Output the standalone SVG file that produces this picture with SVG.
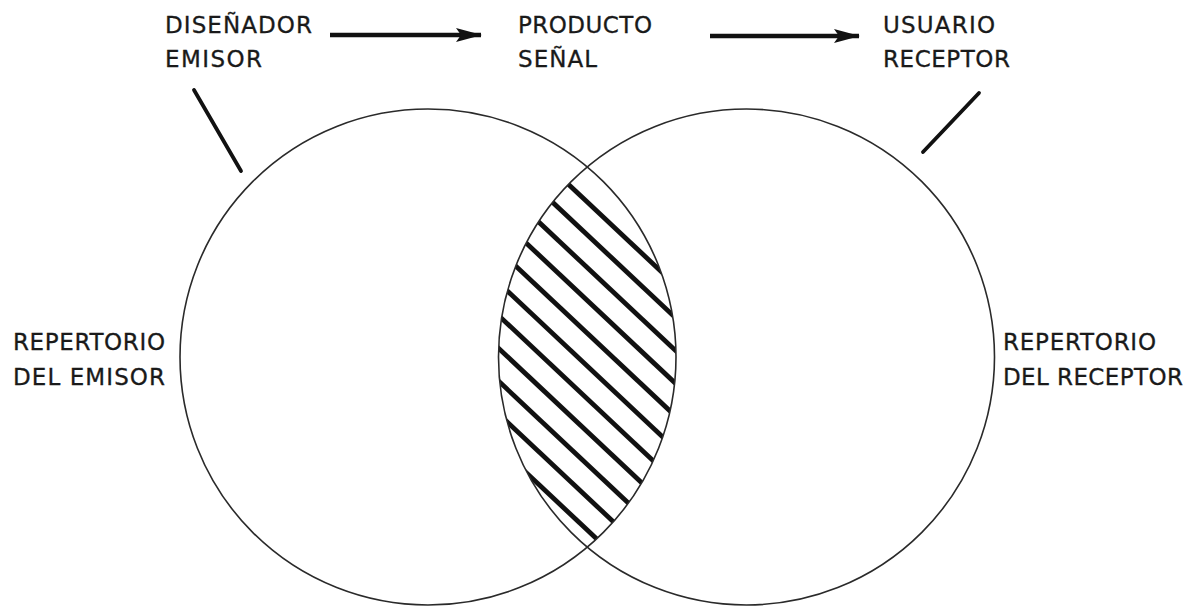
<svg xmlns="http://www.w3.org/2000/svg" width="1194" height="607" viewBox="0 0 1194 607">
  <style>
    .lbl { font-family: "DejaVu Sans", Verdana, sans-serif; font-size: 23px; fill: #1a1a1a; stroke: #1a1a1a; stroke-width: 0.3; }
    .circ { fill: none; stroke: #2a2a2a; stroke-width: 1.6; }
    .hatch { stroke: #111; stroke-width: 4.8; stroke-linecap: butt; }
    .arrow { stroke: #111; stroke-width: 4.5; fill: none; }
    .leader { stroke: #111; stroke-width: 3.8; stroke-linecap: round; }
  </style>
  <defs>
    <marker id="ah" viewBox="0 0 26 14" refX="25" refY="7" markerWidth="26" markerHeight="14" markerUnits="userSpaceOnUse" orient="auto">
      <path d="M0,0 L26,7 L0,14 L5,7 Z" fill="#111"/>
    </marker>
    <clipPath id="lens">
      <path d="M587.25,166.9 A248,248 0 0 1 587.25,547.1 A248,248 0 0 1 587.25,166.9 Z"/>
    </clipPath>
  </defs>
  <rect width="1194" height="607" fill="#ffffff"/>

  <g id="intersection" clip-path="url(#lens)">
    <line class="hatch" x1="480" y1="101.2" x2="700" y2="308"/>
    <line class="hatch" x1="480" y1="134" x2="700" y2="340.8"/>
    <line class="hatch" x1="480" y1="166.8" x2="700" y2="373.6"/>
    <line class="hatch" x1="480" y1="199.6" x2="700" y2="406.4"/>
    <line class="hatch" x1="480" y1="232.4" x2="700" y2="439.2"/>
    <line class="hatch" x1="480" y1="265.2" x2="700" y2="472"/>
    <line class="hatch" x1="480" y1="298" x2="700" y2="504.8"/>
    <line class="hatch" x1="480" y1="330.8" x2="700" y2="537.6"/>
    <line class="hatch" x1="480" y1="363.6" x2="700" y2="570.4"/>
    <line class="hatch" x1="480" y1="396.4" x2="700" y2="603.2"/>
    <line class="hatch" x1="480" y1="429.2" x2="700" y2="636"/>
  </g>

  <g id="repertorio-emisor">
    <circle class="circ" cx="428" cy="357" r="248"/>
    <text class="lbl" x="13" y="350" textLength="152" lengthAdjust="spacing">REPERTORIO</text>
    <text class="lbl" x="13" y="385" textLength="152" lengthAdjust="spacing">DEL EMISOR</text>
  </g>

  <g id="repertorio-receptor">
    <circle class="circ" cx="746.5" cy="357" r="248"/>
    <text class="lbl" x="1003" y="350" textLength="153" lengthAdjust="spacing">REPERTORIO</text>
    <text class="lbl" x="1003" y="385" textLength="180" lengthAdjust="spacing">DEL RECEPTOR</text>
  </g>

  <g id="disenador-emisor">
    <text class="lbl" x="165" y="33" textLength="147" lengthAdjust="spacing">DISEÑADOR</text>
    <text class="lbl" x="165" y="67" textLength="97" lengthAdjust="spacing">EMISOR</text>
  </g>

  <g id="producto-senal">
    <text class="lbl" x="518" y="33" textLength="134" lengthAdjust="spacing">PRODUCTO</text>
    <text class="lbl" x="518" y="67" textLength="79" lengthAdjust="spacing">SEÑAL</text>
  </g>

  <g id="usuario-receptor">
    <text class="lbl" x="883" y="33" textLength="112" lengthAdjust="spacing">USUARIO</text>
    <text class="lbl" x="883" y="67" textLength="127" lengthAdjust="spacing">RECEPTOR</text>
  </g>

  <g id="connectors">
    <line class="arrow" x1="330" y1="35" x2="481" y2="35" marker-end="url(#ah)"/>
    <line class="arrow" x1="710" y1="36" x2="859" y2="36" marker-end="url(#ah)"/>
    <line class="leader" x1="194" y1="90" x2="241" y2="171"/>
    <line class="leader" x1="979" y1="93" x2="923" y2="152"/>
  </g>
</svg>
